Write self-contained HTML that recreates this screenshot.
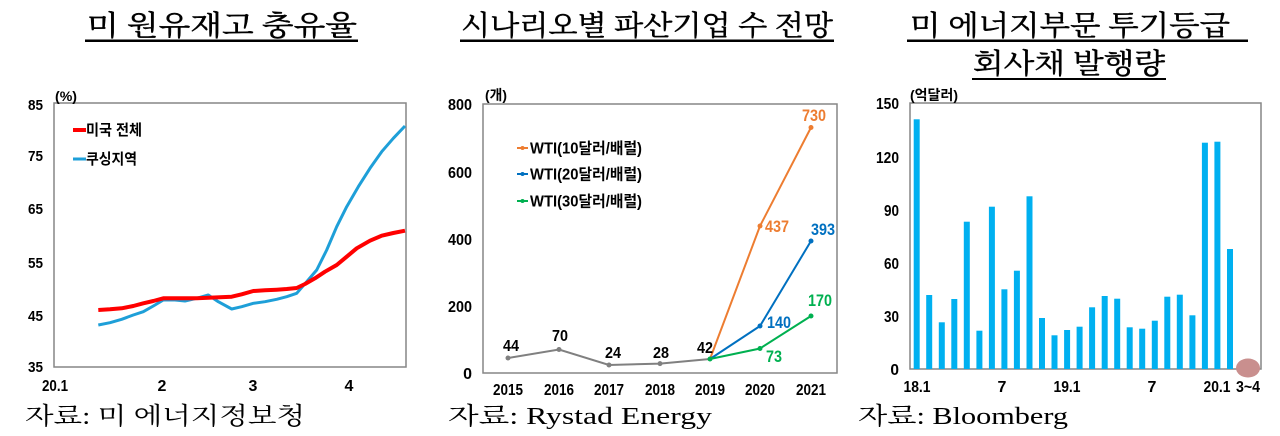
<!DOCTYPE html>
<html>
<head>
<meta charset="utf-8">
<style>
html,body{margin:0;padding:0;background:#fff;}
svg{display:block;}
.t{font-family:"Liberation Serif","Noto Serif CJK SC",serif;fill:#000;}
.tt{stroke:#000;stroke-width:0.45;}
.s{font-family:"Liberation Sans","Noto Sans CJK KR",sans-serif;font-weight:bold;fill:#000;}
</style>
</head>
<body>
<svg width="1280" height="436" viewBox="0 0 1280 436" xmlns="http://www.w3.org/2000/svg">
<rect width="1280" height="436" fill="#fff"/>

<!-- Titles -->
<text class="t tt" x="87" y="35" font-size="28" textLength="270" lengthAdjust="spacingAndGlyphs">미 원유재고 충유율</text>
<rect x="85" y="39.5" width="273" height="2.5" fill="#000"/>
<text class="t tt" x="461" y="35" font-size="28" textLength="372" lengthAdjust="spacingAndGlyphs">시나리오별 파산기업 수 전망</text>
<rect x="460" y="39.5" width="374" height="2.5" fill="#000"/>
<text class="t tt" x="910" y="35" font-size="28" textLength="320" lengthAdjust="spacingAndGlyphs">미 에너지부문 투기등급</text>
<rect x="907" y="39.5" width="341" height="2.5" fill="#000"/>
<text class="t tt" x="973" y="73" font-size="28" textLength="192" lengthAdjust="spacingAndGlyphs">회사채 발행량</text>
<rect x="972" y="78" width="194" height="2" fill="#000"/>

<!-- ============ LEFT CHART ============ -->
<rect x="54" y="103" width="352" height="264" fill="none" stroke="#868686" stroke-width="1.5"/>
<text class="s" x="55" y="101" font-size="14" textLength="22" lengthAdjust="spacingAndGlyphs">(%)</text>
<g class="s" font-size="15" text-anchor="end">
<text x="43" y="110" textLength="15" lengthAdjust="spacingAndGlyphs">85</text>
<text x="43" y="161" textLength="15" lengthAdjust="spacingAndGlyphs">75</text>
<text x="43" y="214" textLength="15" lengthAdjust="spacingAndGlyphs">65</text>
<text x="43" y="268" textLength="15" lengthAdjust="spacingAndGlyphs">55</text>
<text x="43" y="321" textLength="15" lengthAdjust="spacingAndGlyphs">45</text>
<text x="43" y="372" textLength="15" lengthAdjust="spacingAndGlyphs">35</text>
</g>
<g class="s" font-size="16" text-anchor="middle">
<text x="55" y="391" textLength="26" lengthAdjust="spacingAndGlyphs">20.1</text>
<text x="162" y="391">2</text>
<text x="253" y="391">3</text>
<text x="349" y="391">4</text>
</g>
<polyline fill="none" stroke="#1E9FD8" stroke-width="3" stroke-linejoin="round" points="98.3,325 110,322.7 121.7,319.3 133.3,315 143.3,311.7 153.3,306 163.3,300 175,300 185,301 196.7,298.3 208.3,295 218.3,301.7 231.7,309 241.7,306.7 253.3,303.3 265,301.7 276.7,299.3 286.7,296.7 296.7,293.3 306.7,281.7 316.7,270 326.7,250 336.7,226.7 346.7,206.7 358.3,186.7 370,168.3 381.7,151.7 393.3,138.3 405,126"/>
<polyline fill="none" stroke="#FF0000" stroke-width="4" stroke-linejoin="round" points="98.3,310 110,309.3 121.7,308.3 133.3,306 143.3,303.3 153.3,301 163.3,298.3 175,298.3 185,298.3 196.7,298.3 208.3,297.7 220,297.3 231.7,296.7 241.7,294.3 253.3,291 265,290.3 276.7,289.7 286.7,289 296.7,288 305,284 315,278.3 325,271.7 336.7,265 346.7,256.7 356.7,248.3 370,240.7 381.7,235.7 393.3,233 405,230.7"/>
<line x1="73" y1="130" x2="86" y2="130" stroke="#FF0000" stroke-width="4"/>
<text class="s" x="86" y="135" font-size="15" textLength="56" lengthAdjust="spacingAndGlyphs">미국 전체</text>
<line x1="73" y1="159" x2="86" y2="159" stroke="#1E9FD8" stroke-width="3"/>
<text class="s" x="86" y="164" font-size="15" textLength="51" lengthAdjust="spacingAndGlyphs">쿠싱지역</text>

<!-- ============ MIDDLE CHART ============ -->
<rect x="483" y="104" width="354" height="269" fill="none" stroke="#868686" stroke-width="1.5"/>
<text class="s" x="485" y="100" font-size="14" textLength="22" lengthAdjust="spacingAndGlyphs">(개)</text>
<g class="s" font-size="16" text-anchor="end">
<text x="472" y="110" textLength="24" lengthAdjust="spacingAndGlyphs">800</text>
<text x="472" y="178" textLength="24" lengthAdjust="spacingAndGlyphs">600</text>
<text x="472" y="245" textLength="24" lengthAdjust="spacingAndGlyphs">400</text>
<text x="472" y="312" textLength="24" lengthAdjust="spacingAndGlyphs">200</text>
<text x="472" y="379">0</text>
</g>
<g class="s" font-size="16" text-anchor="middle">
<text x="508" y="395" textLength="30" lengthAdjust="spacingAndGlyphs">2015</text>
<text x="559" y="395" textLength="30" lengthAdjust="spacingAndGlyphs">2016</text>
<text x="609" y="395" textLength="30" lengthAdjust="spacingAndGlyphs">2017</text>
<text x="660" y="395" textLength="30" lengthAdjust="spacingAndGlyphs">2018</text>
<text x="710" y="395" textLength="30" lengthAdjust="spacingAndGlyphs">2019</text>
<text x="760" y="395" textLength="30" lengthAdjust="spacingAndGlyphs">2020</text>
<text x="811" y="395" textLength="30" lengthAdjust="spacingAndGlyphs">2021</text>
</g>
<!-- gray history -->
<polyline fill="none" stroke="#808080" stroke-width="2" points="508,358 559,349.5 609,365 660,363.6 710,359"/>
<g fill="#808080">
<circle cx="508" cy="358" r="2.5"/><circle cx="559" cy="349.5" r="2.5"/><circle cx="609" cy="365" r="2.5"/><circle cx="660" cy="363.6" r="2.5"/>
</g>
<!-- orange -->
<polyline fill="none" stroke="#ED7D31" stroke-width="2" points="710,359 760,226 811,127.5"/>
<g fill="#ED7D31"><circle cx="760" cy="226" r="2.5"/><circle cx="811" cy="127.5" r="2.5"/></g>
<!-- blue -->
<polyline fill="none" stroke="#0070C0" stroke-width="2" points="710,359 760,326 811,241"/>
<g fill="#0070C0"><circle cx="760" cy="326" r="2.5"/><circle cx="811" cy="241" r="2.5"/></g>
<!-- green -->
<polyline fill="none" stroke="#00B050" stroke-width="2" points="710,359 760,348.5 811,316"/>
<g fill="#00B050"><circle cx="710" cy="359" r="2.5"/><circle cx="760" cy="348.5" r="2.5"/><circle cx="811" cy="316" r="2.5"/></g>
<!-- data labels -->
<g class="s" font-size="16" text-anchor="middle">
<text x="511" y="351" textLength="16" lengthAdjust="spacingAndGlyphs">44</text>
<text x="560" y="341" textLength="16" lengthAdjust="spacingAndGlyphs">70</text>
<text x="613" y="358" textLength="16" lengthAdjust="spacingAndGlyphs">24</text>
<text x="661" y="358" textLength="16" lengthAdjust="spacingAndGlyphs">28</text>
<text x="705" y="353" textLength="16" lengthAdjust="spacingAndGlyphs">42</text>
</g>
<g class="s" font-size="17" text-anchor="middle">
<text x="814" y="121" fill="#ED7D31" textLength="24" lengthAdjust="spacingAndGlyphs">730</text>
<text x="777" y="232" fill="#ED7D31" textLength="24" lengthAdjust="spacingAndGlyphs">437</text>
<text x="823" y="235" fill="#0070C0" textLength="24" lengthAdjust="spacingAndGlyphs">393</text>
<text x="779" y="328" fill="#0070C0" textLength="24" lengthAdjust="spacingAndGlyphs">140</text>
<text x="820" y="306" fill="#00B050" textLength="24" lengthAdjust="spacingAndGlyphs">170</text>
<text x="774" y="362" fill="#00B050" textLength="16" lengthAdjust="spacingAndGlyphs">73</text>
</g>
<!-- legend -->
<line x1="517" y1="148" x2="528" y2="148" stroke="#ED7D31" stroke-width="2"/><circle cx="522.5" cy="148" r="2" fill="#ED7D31"/>
<text class="s" x="530" y="153.5" font-size="15.5" textLength="112" lengthAdjust="spacingAndGlyphs">WTI(10달러/배럴)</text>
<line x1="517" y1="174" x2="528" y2="174" stroke="#0070C0" stroke-width="2"/><circle cx="522.5" cy="174" r="2" fill="#0070C0"/>
<text class="s" x="530" y="179.5" font-size="15.5" textLength="112" lengthAdjust="spacingAndGlyphs">WTI(20달러/배럴)</text>
<line x1="517" y1="201" x2="528" y2="201" stroke="#00B050" stroke-width="2"/><circle cx="522.5" cy="201" r="2" fill="#00B050"/>
<text class="s" x="530" y="206.5" font-size="15.5" textLength="112" lengthAdjust="spacingAndGlyphs">WTI(30달러/배럴)</text>

<!-- ============ RIGHT CHART ============ -->
<rect x="910" y="103" width="351" height="266" fill="none" stroke="#868686" stroke-width="1.5"/>
<text class="s" x="910" y="100" font-size="14" textLength="48" lengthAdjust="spacingAndGlyphs">(억달러)</text>
<g class="s" font-size="15.5" text-anchor="end">
<text x="899" y="109" textLength="23" lengthAdjust="spacingAndGlyphs">150</text>
<text x="899" y="163" textLength="23" lengthAdjust="spacingAndGlyphs">120</text>
<text x="899" y="216" textLength="15" lengthAdjust="spacingAndGlyphs">90</text>
<text x="899" y="269" textLength="15" lengthAdjust="spacingAndGlyphs">60</text>
<text x="899" y="322" textLength="15" lengthAdjust="spacingAndGlyphs">30</text>
<text x="899" y="375">0</text>
</g>
<g fill="#00B0F0">
<rect x="913.7" y="119.3" width="6" height="249.7"/>
<rect x="926.2" y="295" width="6" height="74"/>
<rect x="938.8" y="322.3" width="6" height="46.7"/>
<rect x="951.3" y="299" width="6" height="70"/>
<rect x="963.8" y="221.7" width="6" height="147.3"/>
<rect x="976.4" y="330.7" width="6" height="38.3"/>
<rect x="988.9" y="206.7" width="6" height="162.3"/>
<rect x="1001.4" y="289.3" width="6" height="79.7"/>
<rect x="1013.9" y="270.7" width="6" height="98.3"/>
<rect x="1026.5" y="196.3" width="6" height="172.7"/>
<rect x="1039.0" y="318" width="6" height="51"/>
<rect x="1051.5" y="335.3" width="6" height="33.7"/>
<rect x="1064.1" y="330" width="6" height="39"/>
<rect x="1076.6" y="326.7" width="6" height="42.3"/>
<rect x="1089.1" y="307.3" width="6" height="61.7"/>
<rect x="1101.7" y="296" width="6" height="73"/>
<rect x="1114.2" y="298.7" width="6" height="70.3"/>
<rect x="1126.7" y="327.3" width="6" height="41.7"/>
<rect x="1139.2" y="328.7" width="6" height="40.3"/>
<rect x="1151.8" y="320.7" width="6" height="48.3"/>
<rect x="1164.3" y="296.7" width="6" height="72.3"/>
<rect x="1176.8" y="294.7" width="6" height="74.3"/>
<rect x="1189.4" y="315.3" width="6" height="53.7"/>
<rect x="1201.9" y="142.7" width="6" height="226.3"/>
<rect x="1214.4" y="141.7" width="6" height="227.3"/>
<rect x="1227.0" y="249" width="6" height="120"/>
</g>
<ellipse cx="1248" cy="368" rx="12" ry="9.5" fill="#C98F8E"/>
<g class="s" font-size="16" text-anchor="middle">
<text x="917" y="392" textLength="27" lengthAdjust="spacingAndGlyphs">18.1</text>
<text x="1002" y="392">7</text>
<text x="1067" y="392" textLength="27" lengthAdjust="spacingAndGlyphs">19.1</text>
<text x="1152" y="392">7</text>
<text x="1217" y="392" textLength="27" lengthAdjust="spacingAndGlyphs">20.1</text>
<text x="1248" y="392" textLength="24" lengthAdjust="spacingAndGlyphs">3~4</text>
</g>

<!-- Sources -->
<text class="t" x="25" y="424" font-size="24" textLength="280" lengthAdjust="spacingAndGlyphs">자료: 미 에너지정보청</text>
<text class="t" x="448" y="424" font-size="24" textLength="264" lengthAdjust="spacingAndGlyphs">자료: Rystad Energy</text>
<text class="t" x="858" y="424" font-size="24" textLength="210" lengthAdjust="spacingAndGlyphs">자료: Bloomberg</text>
</svg>
</body>
</html>
